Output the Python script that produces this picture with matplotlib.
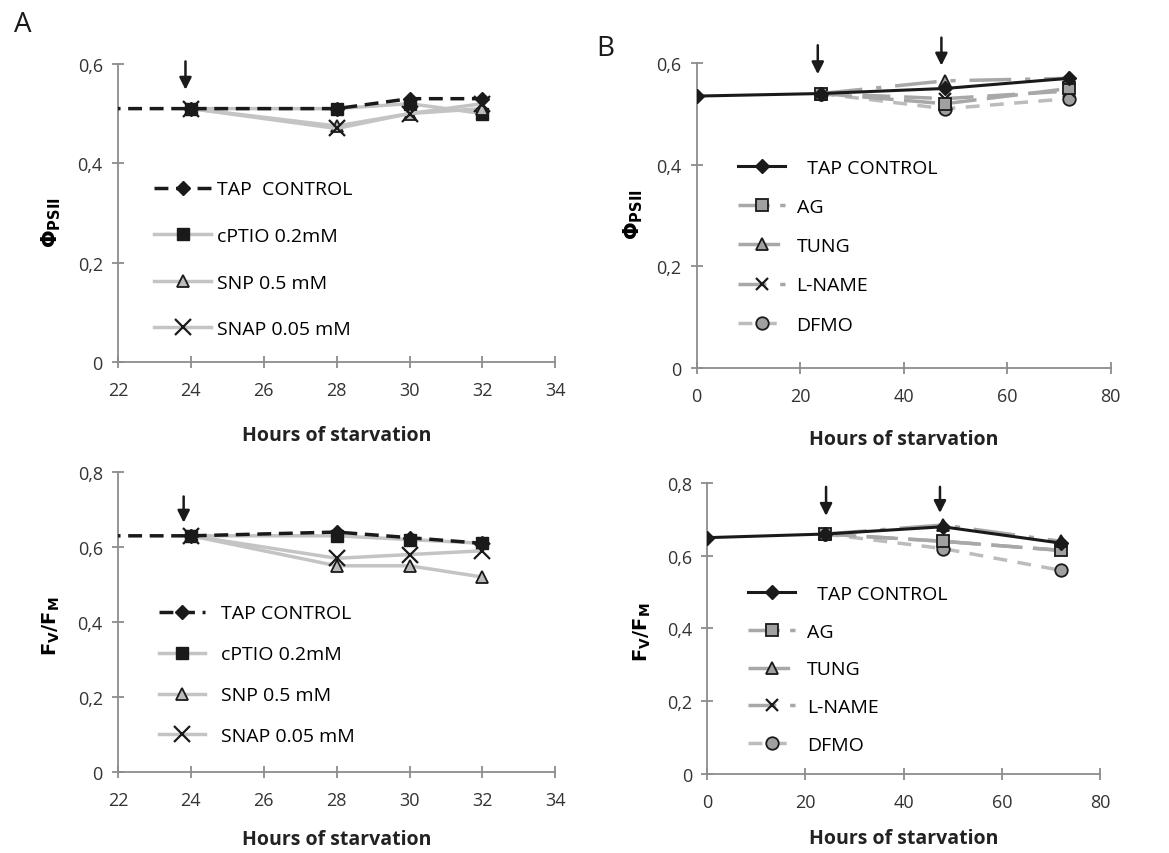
import matplotlib
matplotlib.use("Agg")
import matplotlib.pyplot as plt
from matplotlib.ticker import FuncFormatter

plt.rcParams['font.family'] = ['Open Sans', 'DejaVu Sans']
plt.rcParams['mathtext.fontset'] = 'dejavusans'

# ---- Panel A data (hours 22-34) ----
hours_a = [0, 24, 28, 30, 32]
hours_a_trt = [24, 28, 30, 32]
phi_a_tap = [0.51, 0.51, 0.51, 0.53, 0.53]
phi_a_cptio = [0.51, 0.51, 0.52, 0.50]
phi_a_snp = [0.51, 0.475, 0.50, 0.51]
phi_a_snap = [0.51, 0.47, 0.50, 0.52]

fvfm_a_tap = [0.63, 0.63, 0.64, 0.625, 0.61]
fvfm_a_cptio = [0.63, 0.63, 0.62, 0.61]
fvfm_a_snp = [0.63, 0.55, 0.55, 0.52]
fvfm_a_snap = [0.63, 0.57, 0.58, 0.59]

# ---- Panel B data (hours 0-80) ----
hours_b = [0, 24, 48, 72]
hours_b_trt = [24, 48, 72]
phi_b_tap = [0.535, 0.54, 0.55, 0.57]
phi_b_ag = [0.54, 0.52, 0.55]
phi_b_tung = [0.54, 0.565, 0.57]
phi_b_lname = [0.54, 0.53, 0.545]
phi_b_dfmo = [0.54, 0.51, 0.53]

fvfm_b_tap = [0.65, 0.66, 0.68, 0.635]
fvfm_b_ag = [0.66, 0.64, 0.615]
fvfm_b_tung = [0.66, 0.685, 0.64]
fvfm_b_lname = [0.66, 0.64, 0.615]
fvfm_b_dfmo = [0.66, 0.62, 0.56]

labels_a = ['TAP  CONTROL', 'cPTIO 0.2mM', 'SNP 0.5 mM', 'SNAP 0.05 mM']
labels_a2 = ['TAP CONTROL', 'cPTIO 0.2mM', 'SNP 0.5 mM', 'SNAP 0.05 mM']
labels_b = ['  TAP CONTROL', 'AG', 'TUNG', 'L-NAME', 'DFMO']

fig = plt.figure(figsize=(11.69, 8.54), dpi=100)
ax1 = fig.add_axes([0.101, 0.575, 0.374, 0.349])
ax3 = fig.add_axes([0.101, 0.095, 0.374, 0.351])
ax2 = fig.add_axes([0.596, 0.568, 0.354, 0.357])
ax4 = fig.add_axes([0.605, 0.093, 0.336, 0.340])

comma = FuncFormatter(lambda v, p: ('%g' % v).replace('.', ','))
spine_c = '#8c8c8c'
lgrey = '#c4c4c4'
mgrey = '#a8a8a8'


def style(ax):
    for s in ['top', 'right']:
        ax.spines[s].set_visible(False)
    for s in ['left', 'bottom']:
        ax.spines[s].set_color(spine_c)
        ax.spines[s].set_linewidth(1.3)
    ax.tick_params(direction='inout', length=8, width=1.3, color=spine_c,
                   labelsize=13, labelcolor='#333333')
    ax.tick_params(axis='x', pad=10)
    ax.tick_params(axis='y', pad=7)
    ax.yaxis.set_major_formatter(comma)
    ax.set_xlabel('Hours of starvation', fontsize=14, fontweight='bold',
                  color='#222222')


def panel_a(ax, tap, cptio, snp, snap, labels, ymax):
    ax.plot(hours_a_trt, cptio, color=lgrey, lw=2.5, marker='s', ms=9,
            mfc='#1a1a1a', mec='#1a1a1a', label=labels[1], zorder=3)
    ax.plot(hours_a_trt, snp, color=lgrey, lw=2.5, marker='^', ms=9,
            mfc='#bbbbbb', mec='#1a1a1a', mew=1.3, label=labels[2], zorder=3)
    ax.plot(hours_a_trt, snap, color=lgrey, lw=2.5, marker='x', ms=11,
            mec='#1a1a1a', mew=1.6, label=labels[3], zorder=3)
    ax.plot(hours_a, tap, color='#1a1a1a', lw=2.5, ls=(0, (4, 2.2)),
            marker='D', ms=7, mfc='#1a1a1a', label=labels[0], zorder=4)
    ax.set_xlim(22, 34)
    ax.set_xticks(range(22, 35, 2))
    ax.set_ylim(0, ymax)
    ax.set_yticks([round(0.2 * i, 1) for i in range(int(round(ymax / 0.2)) + 1)])
    h, l = ax.get_legend_handles_labels()
    order = [3, 0, 1, 2]
    return [h[i] for i in order], [l[i] for i in order]


def panel_b(ax, tap, ag, tung, lname, dfmo, ymax):
    ax.plot(hours_b_trt, dfmo, color='#bcbcbc', lw=2.5, ls=(0, (4, 3)),
            marker='o', ms=9, mfc='#a0a0a0', mec='#1a1a1a', mew=1.3,
            label='DFMO', zorder=2)
    ax.plot(hours_b_trt, lname, color=mgrey, lw=2.5, ls=(0, (8, 4)),
            marker='x', ms=9, mec='#1a1a1a', mew=1.6, label='L-NAME', zorder=2)
    ax.plot(hours_b_trt, ag, color=mgrey, lw=2.5, ls=(0, (9, 3)),
            marker='s', ms=8, mfc='#a0a0a0', mec='#1a1a1a', mew=1.3,
            label='AG', zorder=2)
    ax.plot(hours_b_trt, tung, color=mgrey, lw=2.5, ls=(0, (12, 4, 1.5, 4)),
            marker='^', ms=8, mfc='#a0a0a0', mec='#1a1a1a', mew=1.3,
            label='TUNG', zorder=2)
    ax.plot(hours_b, tap, color='#1a1a1a', lw=2.2, marker='D', ms=7,
            mfc='#1a1a1a', label=labels_b[0], zorder=4)
    ax.set_xlim(0, 80)
    ax.set_xticks(range(0, 81, 20))
    ax.set_ylim(0, ymax)
    ax.set_yticks([round(0.2 * i, 1) for i in range(int(round(ymax / 0.2)) + 1)])
    h, l = ax.get_legend_handles_labels()
    order = [4, 2, 3, 1, 0]
    return [h[i] for i in order], [l[i] for i in order]


def arrow(ax, x, y0, y1):
    ax.annotate('', xy=(x, y1), xytext=(x, y0), annotation_clip=False,
                arrowprops=dict(arrowstyle='-|>,head_length=0.6,head_width=0.3',
                                color='#1a1a1a', lw=1.8,
                                mutation_scale=12, shrinkA=0, shrinkB=0))


for ax in (ax1, ax2, ax3, ax4):
    style(ax)

h, l = panel_a(ax1, phi_a_tap, phi_a_cptio, phi_a_snp, phi_a_snap, labels_a, 0.6)
ax1.legend(h, l, loc='upper left', bbox_to_anchor=(0.043, 0.668), frameon=False,
           fontsize=14, labelspacing=1.47, handlelength=2.9, handletextpad=0.3)
ax1.set_ylabel(r'$\mathbf{\Phi_{PSII}}$', fontsize=15)
ax1.yaxis.set_label_coords(-0.127, 0.47)
ax1.xaxis.set_label_coords(0.5, -0.21)
arrow(ax1, 23.85, 0.605, 0.548)

h, l = panel_a(ax3, fvfm_a_tap, fvfm_a_cptio, fvfm_a_snp, fvfm_a_snap, labels_a2, 0.8)
ax3.legend(h, l, loc='upper left', bbox_to_anchor=(0.053, 0.617), frameon=False,
           fontsize=14, labelspacing=1.18, handlelength=2.4, handletextpad=0.8)
ax3.set_ylabel(r'$\mathbf{F_V/F_M}$', fontsize=14)
ax3.yaxis.set_label_coords(-0.128, 0.49)
ax3.xaxis.set_label_coords(0.5, -0.19)
arrow(ax3, 23.8, 0.735, 0.665)

h, l = panel_b(ax2, phi_b_tap, phi_b_ag, phi_b_tung, phi_b_lname, phi_b_dfmo, 0.6)
ax2.legend(h, l, loc='upper left', bbox_to_anchor=(0.058, 0.743), frameon=False,
           fontsize=14, labelspacing=1.09, handlelength=2.4, handletextpad=0.6)
ax2.set_ylabel(r'$\mathbf{\Phi_{PSII}}$', fontsize=15)
ax2.yaxis.set_label_coords(-0.126, 0.505)
ax2.xaxis.set_label_coords(0.5, -0.2)
arrow(ax2, 23.4, 0.635, 0.578)
arrow(ax2, 47.3, 0.65, 0.595)

h, l = panel_b(ax4, fvfm_b_tap, fvfm_b_ag, fvfm_b_tung, fvfm_b_lname, fvfm_b_dfmo, 0.8)
ax4.legend(h, l, loc='upper left', bbox_to_anchor=(0.06, 0.709), frameon=False,
           fontsize=14, labelspacing=1.01, handlelength=2.4, handletextpad=0.6)
ax4.set_ylabel(r'$\mathbf{F_V/F_M}$', fontsize=14)
ax4.yaxis.set_label_coords(-0.137, 0.49)
ax4.xaxis.set_label_coords(0.5, -0.186)
arrow(ax4, 24.2, 0.79, 0.71)
arrow(ax4, 47.4, 0.79, 0.718)

fig.text(0.012, 0.962, 'A', fontsize=20, color='#1a1a1a')
fig.text(0.51, 0.935, 'B', fontsize=20, color='#1a1a1a')

fig.savefig('out.png', dpi=100)
